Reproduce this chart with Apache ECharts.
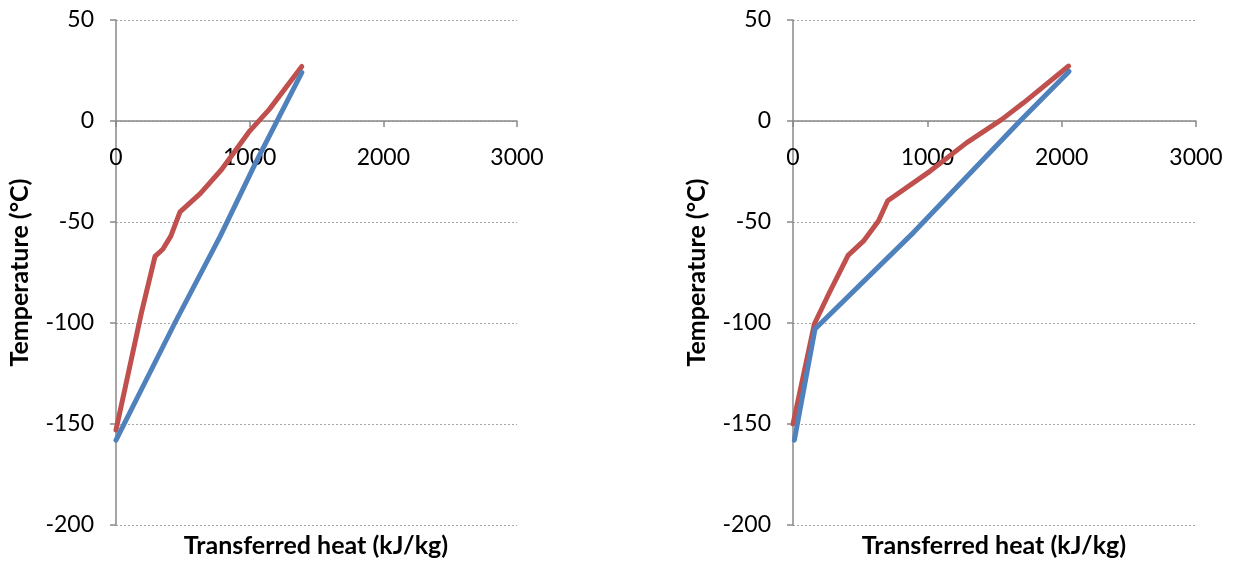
<!DOCTYPE html>
<html>
<head>
<meta charset="utf-8">
<script src="https://cdn.jsdelivr.net/npm/echarts@6/dist/echarts.min.js"></script>
<style>
html,body{margin:0;padding:0;background:#fff;}
#c{width:1233px;height:563px;}
</style>
</head>
<body>
<div id="c"></div>
<script>
// Left chart
const leftHotX = [0, 190, 292, 350, 410, 479, 630, 790, 1000, 1150, 1390];
const leftHotY = [-153, -95, -67, -63.5, -57, -45, -36, -24, -5, 6, 27];
const leftColdX = [0, 440, 780, 1050, 1390];
const leftColdY = [-158, -100, -57, -20, 24];
// Right chart
const rightHotX = [0, 159, 263, 410, 524, 636, 705, 1021, 1294, 1555, 1716, 2052];
const rightHotY = [-150, -100.5, -86, -66.5, -59.5, -49.5, -39.5, -24.8, -10.7, 0.8, 9, 27.2];
const rightColdX = [10, 164, 900, 1690, 2055];
const rightColdY = [-158, -103, -55, 0, 24.5];

const xTicks = [0, 1000, 2000, 3000];
const yTicks = [-200, -150, -100, -50, 0, 50];
const xTitle = 'Transferred heat (kJ/kg)';
const yTitle = 'Temperature (°C)';

function pairs(xs, ys){ return xs.map((x,i)=>[x, ys[i]]); }

const FONT = 'Lato';
const axisGray = '#898989';
const GRID_TOP = 20, GRID_BOTTOM = 38, H = 563;
const plotH = H - GRID_TOP - GRID_BOTTOM;
// distance of the zero line above the plot bottom
const zeroOffset = plotH * (0 - yTicks[0]) / (yTicks[yTicks.length-1] - yTicks[0]);

function xAxisCfg(idx){
  return {
    gridIndex: idx, type: 'value', position: 'bottom',
    min: xTicks[0], max: xTicks[xTicks.length-1], interval: 1000,
    offset: -zeroOffset,
    axisLine: {show: true, onZero: false, lineStyle: {color: axisGray, width: 1.5}},
    axisTick: {show: true, inside: false, length: 6, lineStyle: {color: axisGray, width: 1.5}},
    axisLabel: {fontFamily: FONT, fontSize: 23, color: '#000', margin: 25, formatter: v => String(v)},
    splitLine: {show: false}
  };
}
function yAxisCfg(idx){
  return {
    gridIndex: idx, type: 'value',
    min: yTicks[0], max: yTicks[yTicks.length-1], interval: 50,
    axisLine: {show: true, lineStyle: {color: axisGray, width: 1.5}},
    axisTick: {show: true, inside: false, length: 6, lineStyle: {color: axisGray, width: 1.5}},
    axisLabel: {fontFamily: FONT, fontSize: 23, color: '#000', margin: 22, formatter: v => String(v)},
    splitLine: {show: true, lineStyle: {color: '#a6a6a6', type: [2, 2], width: 1}},
    name: yTitle, nameLocation: 'middle', nameRotate: 90, nameGap: 84,
    nameTextStyle: {fontFamily: FONT, fontSize: 25, fontWeight: 'bold', color: '#000'}
  };
}

const RED = '#C0504D', BLUE = '#4F81BD';
function line(idx, data, color){
  return {
    type: 'line', xAxisIndex: idx, yAxisIndex: idx, data: data,
    showSymbol: false, symbol: 'none', smooth: false,
    lineStyle: {color: color, width: 5, cap: 'round', join: 'round'},
    itemStyle: {color: color}, animation: false
  };
}

const chart = echarts.init(document.getElementById('c'));
chart.setOption({
  backgroundColor: '#fff',
  animation: false,
  grid: [
    {left: 116, right: 716, top: GRID_TOP, bottom: GRID_BOTTOM},
    {left: 793, right: 37, top: GRID_TOP, bottom: GRID_BOTTOM}
  ],
  xAxis: [xAxisCfg(0), xAxisCfg(1)],
  yAxis: [yAxisCfg(0), yAxisCfg(1)],
  graphic: [
    {type: 'text', x: 316, y: 546, style: {text: xTitle, font: 'bold 25px Lato', fill: '#000', align: 'center', verticalAlign: 'middle'}},
    {type: 'text', x: 994, y: 546, style: {text: xTitle, font: 'bold 25px Lato', fill: '#000', align: 'center', verticalAlign: 'middle'}}
  ],
  series: [
    line(0, pairs(leftHotX, leftHotY), RED),
    line(0, pairs(leftColdX, leftColdY), BLUE),
    line(1, pairs(rightHotX, rightHotY), RED),
    line(1, pairs(rightColdX, rightColdY), BLUE)
  ]
});
</script>
</body>
</html>
